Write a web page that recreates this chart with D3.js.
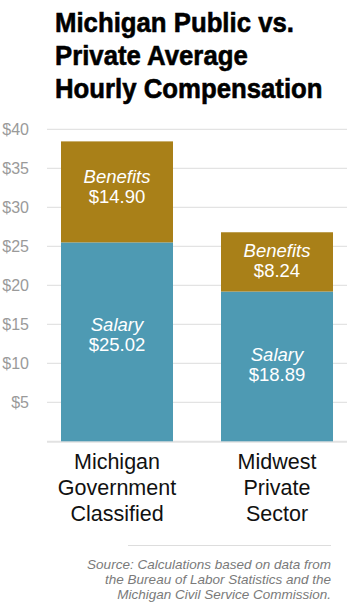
<!DOCTYPE html>
<html><head><meta charset="utf-8">
<script src="https://cdn.jsdelivr.net/npm/d3@7"></script>
<style>
html,body{margin:0;padding:0;background:#fff;}
svg{display:block;}
</style></head>
<body>
<svg id="chart" width="359" height="610"></svg>
<script>
const titleLines = ["Michigan Public vs.", "Private Average", "Hourly Compensation"];
const categories = ["Michigan Government Classified", "Midwest Private Sector"];
const categoryLines = [["Michigan", "Government", "Classified"], ["Midwest", "Private", "Sector"]];
const salary = [25.5, 19.2];
const benefits = [12.95, 7.6];
const salaryLabels = ["$25.02", "$18.89"];
const benefitsLabels = ["$14.90", "$8.24"];
const salaryLabelMid = [13.75, 9.9];
const benefitsLabelMid = [32.67, 23.24];
const yTicks = [5, 10, 15, 20, 25, 30, 35, 40];
const sourceLines = ["Source: Calculations based on data from", "the Bureau of Labor Statistics and the", "Michigan Civil Service Commission."];

const svg = d3.select("#chart");
const x = d3.scaleBand().domain(categories).range([47, 347]).paddingInner(0.3).paddingOuter(0.0875);
const y = d3.scaleLinear().domain([0, 40]).range([441.3, 129.3]);

// title (condensed look via horizontal scale)
svg.append("g").attr("transform", "translate(55,0) scale(0.92,1)")
  .selectAll("text").data(titleLines).join("text")
  .attr("x", 0).attr("y", (d, i) => 32 + i * 33)
  .attr("font-family", "'Liberation Sans', Arial, sans-serif")
  .attr("font-weight", "bold").attr("font-size", 28).attr("fill", "#000")
  .attr("stroke", "#000").attr("stroke-width", 0.6)
  .text(d => d);

// gridlines
svg.append("g").selectAll("line").data(yTicks).join("line")
  .attr("x1", 47).attr("x2", 347).attr("y1", d => y(d)).attr("y2", d => y(d))
  .attr("stroke", "#dddddd").attr("stroke-width", 1);
svg.append("line").attr("x1", 47).attr("x2", 347).attr("y1", y(0) + 0.5).attr("y2", y(0) + 0.5)
  .attr("stroke", "#e2e2e2").attr("stroke-width", 2);

// y labels
svg.append("g").selectAll("text").data(yTicks).join("text")
  .attr("x", 29).attr("y", d => y(d)).attr("dy", "0.35em").attr("text-anchor", "end")
  .attr("font-family", "'Liberation Sans', Arial, sans-serif").attr("font-size", 16).attr("fill", "#9a9a9a")
  .text(d => "$" + d);

// bars
const bars = svg.append("g");
bars.selectAll("rect.sal").data(categories).join("rect").attr("class", "sal")
  .attr("x", d => x(d)).attr("width", x.bandwidth())
  .attr("y", (d, i) => y(salary[i])).attr("height", (d, i) => y(0) - y(salary[i]))
  .attr("fill", "#4e9ab3");
bars.selectAll("rect.ben").data(categories).join("rect").attr("class", "ben")
  .attr("x", d => x(d)).attr("width", x.bandwidth())
  .attr("y", (d, i) => y(salary[i] + benefits[i])).attr("height", (d, i) => y(salary[i]) - y(salary[i] + benefits[i]))
  .attr("fill", "#a98018");

// bar labels
function barLabel(name, values, mids) {
  const g = svg.append("g").attr("fill", "#fff").attr("text-anchor", "middle")
    .attr("font-family", "'Liberation Sans', Arial, sans-serif").attr("font-size", 18.5);
  categories.forEach((c, i) => {
    const cx = x(c) + x.bandwidth() / 2;
    const cy = y(mids[i]);
    g.append("text").attr("x", cx).attr("y", cy - 3.5).attr("font-style", "italic").text(name);
    g.append("text").attr("x", cx).attr("y", cy + 16.5).text(values[i]);
  });
}
barLabel("Benefits", benefitsLabels, benefitsLabelMid);
barLabel("Salary", salaryLabels, salaryLabelMid);

// category labels
categories.forEach((c, i) => {
  svg.append("g").selectAll("text").data(categoryLines[i]).join("text")
    .attr("x", x(c) + x.bandwidth() / 2).attr("y", (d, j) => 468.5 + j * 26)
    .attr("text-anchor", "middle").attr("font-family", "'Liberation Sans', Arial, sans-serif")
    .attr("font-size", 21.5).attr("fill", "#111").text(d => d);
});

// source
svg.append("line").attr("x1", 128).attr("x2", 331).attr("y1", 545.5).attr("y2", 545.5)
  .attr("stroke", "#dddddd").attr("stroke-width", 1);
svg.append("g").selectAll("text").data(sourceLines).join("text")
  .attr("x", 331).attr("y", (d, i) => 569 + i * 15.2).attr("text-anchor", "end")
  .attr("font-family", "'Liberation Sans', Arial, sans-serif").attr("font-style", "italic")
  .attr("font-size", 13.5).attr("fill", "#7a7a7a").text(d => d);
</script>
</body></html>
